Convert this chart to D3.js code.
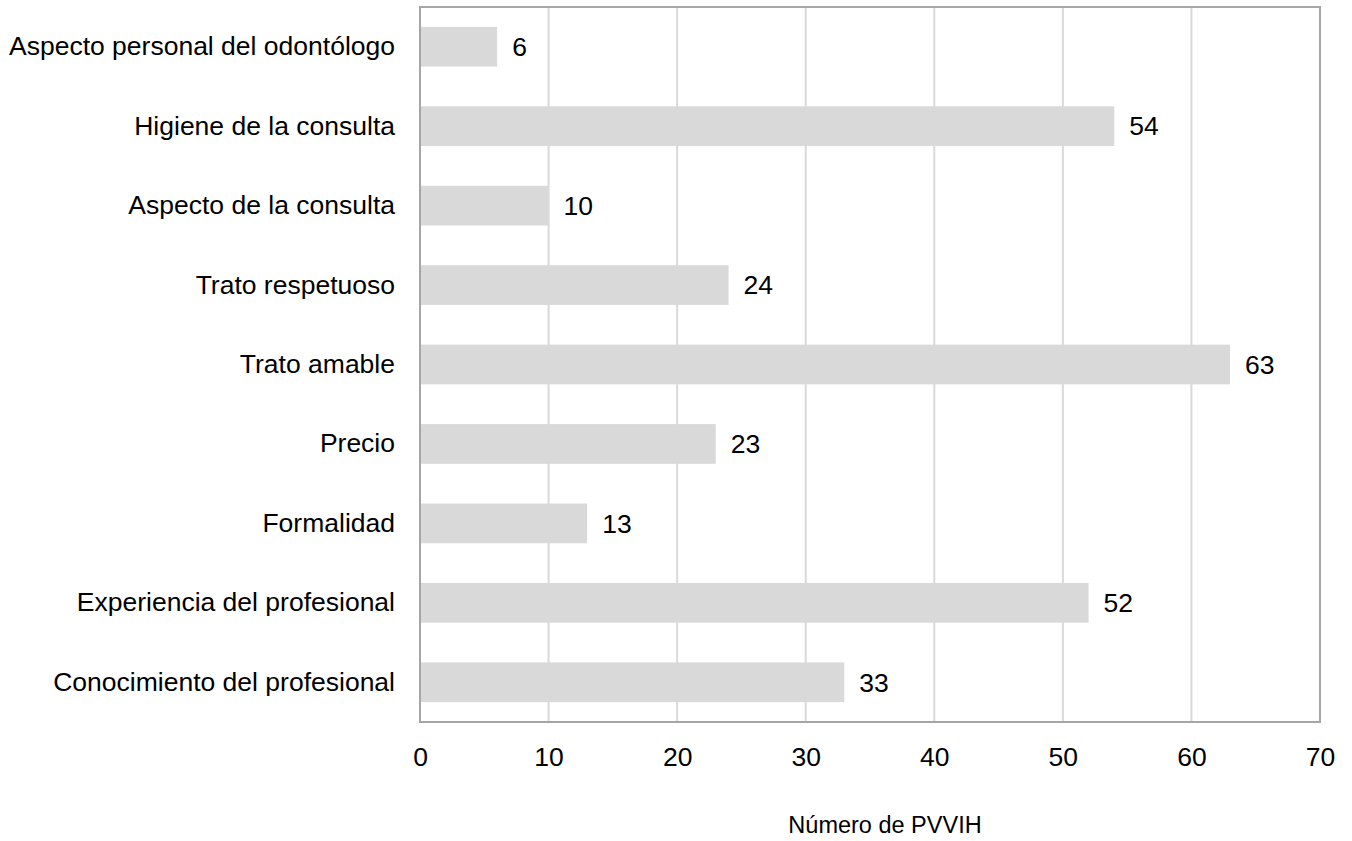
<!DOCTYPE html>
<html>
<head>
<meta charset="utf-8">
<script src="https://cdn.jsdelivr.net/npm/d3@7/dist/d3.min.js"></script>
<style>
  html, body { margin: 0; padding: 0; background: #fff; }
  svg { display: block; font-family: "Liberation Sans", Arial, sans-serif; }
</style>
</head>
<body>
<svg id="chart" width="1352" height="841"></svg>
<script>
// Factores valorados al elegir odontólogo
const categories = [
  "Aspecto personal del odontólogo",
  "Higiene de la consulta",
  "Aspecto de la consulta",
  "Trato respetuoso",
  "Trato amable",
  "Precio",
  "Formalidad",
  "Experiencia del profesional",
  "Conocimiento del profesional"
];
const values = [6, 54, 10, 24, 63, 23, 13, 52, 33];
const xTicks = [0, 10, 20, 30, 40, 50, 60, 70];
const xTitle = "Número de PVVIH";

const svg = d3.select("#chart");
const margin = { left: 420, right: 32, top: 7, bottom: 119 };
const W = 1352, H = 841;
const innerW = W - margin.left - margin.right;
const innerH = H - margin.top - margin.bottom;
const FONT = "Liberation Sans, Arial, sans-serif";
const LABEL_SIZE = 26.5;

const x = d3.scaleLinear().domain([0, 70]).range([0, innerW]);
const y = d3.scaleBand().domain(categories).range([0, innerH]).paddingInner(0.5).paddingOuter(0.25);

const g = svg.append("g").attr("transform", `translate(${margin.left},${margin.top})`);

// vertical gridlines
g.append("g")
  .selectAll("line")
  .data(xTicks.slice(1, -1))
  .join("line")
  .attr("x1", d => x(d)).attr("x2", d => x(d))
  .attr("y1", 0).attr("y2", innerH)
  .attr("stroke", "#d9d9d9").attr("stroke-width", 2);

// bars
g.append("g")
  .selectAll("rect")
  .data(values)
  .join("rect")
  .attr("x", x(0))
  .attr("y", (d, i) => y(categories[i]))
  .attr("width", d => x(d) - x(0))
  .attr("height", y.bandwidth())
  .attr("fill", "#d9d9d9");

// value labels
g.append("g")
  .selectAll("text")
  .data(values)
  .join("text")
  .attr("x", d => x(d) + 15)
  .attr("y", (d, i) => y(categories[i]) + y.bandwidth() / 2)
  .attr("dy", "0.35em")
  .attr("font-size", LABEL_SIZE)
  .attr("font-family", FONT)
  .attr("fill", "#000")
  .text(d => d);

// frame
g.append("rect")
  .attr("x", 0).attr("y", 0)
  .attr("width", innerW).attr("height", innerH)
  .attr("fill", "none")
  .attr("stroke", "#a6a6a6").attr("stroke-width", 2);

// category axis
const yAxis = g.append("g").call(d3.axisLeft(y).tickSize(0).tickPadding(25));
yAxis.attr("font-size", LABEL_SIZE).attr("font-family", FONT);
yAxis.select(".domain").remove();
yAxis.selectAll("text").attr("fill", "#000");

// value axis
const xAxis = g.append("g")
  .attr("transform", `translate(0,${innerH})`)
  .call(d3.axisBottom(x).tickValues(xTicks).tickSize(0).tickPadding(25));
xAxis.attr("font-size", LABEL_SIZE).attr("font-family", FONT);
xAxis.select(".domain").remove();
xAxis.selectAll("text").attr("fill", "#000");

// axis title, set slightly right of the plot centre
svg.append("text")
  .attr("x", margin.left + innerW / 2 + 15)
  .attr("y", 833)
  .attr("text-anchor", "middle")
  .attr("font-size", 23.5)
  .attr("font-family", FONT)
  .attr("fill", "#000")
  .text(xTitle);
</script>
</body>
</html>
